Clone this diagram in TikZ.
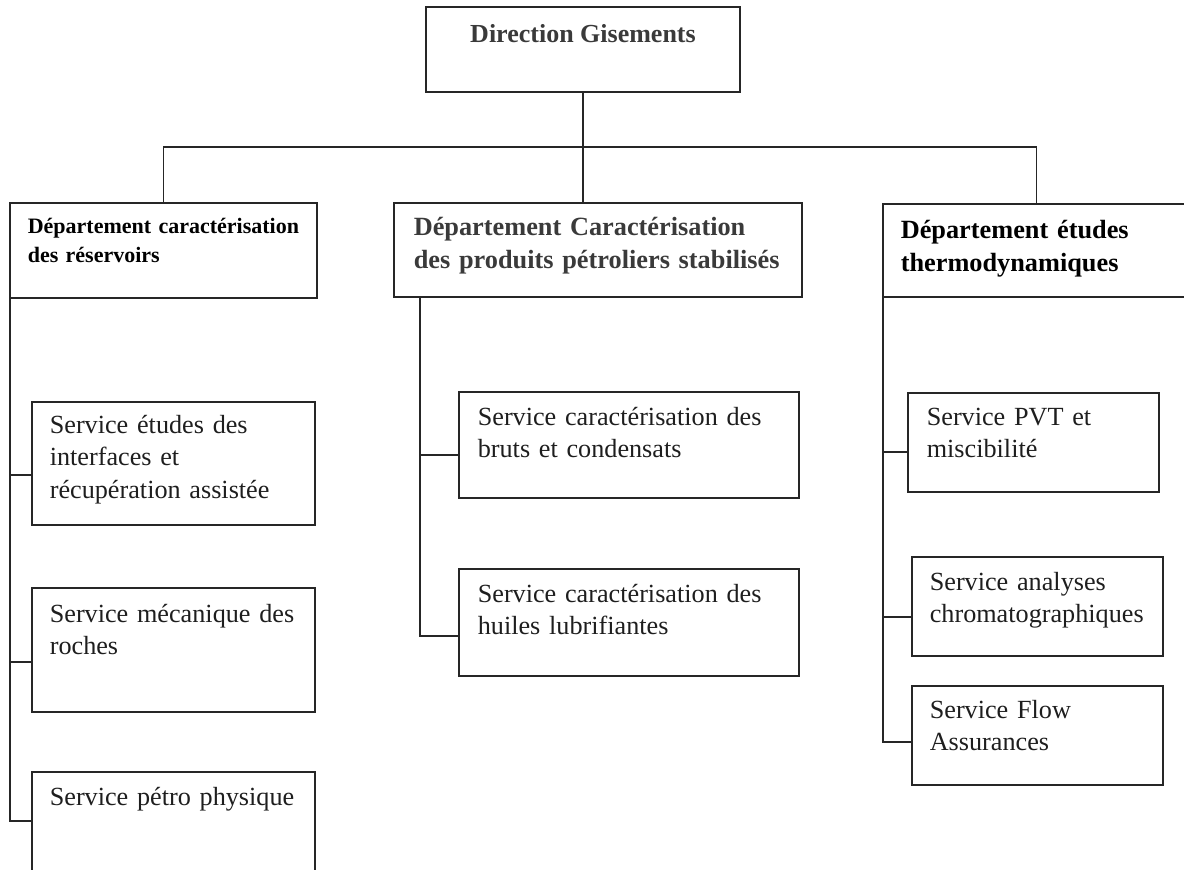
\documentclass[tikz,border=0pt]{standalone}
\usepackage{fontspec}
\setmainfont{Liberation Serif}
\usepackage{tikz}

\definecolor{traitc}{HTML}{262626}
\definecolor{grisT}{HTML}{3A3A3A}
\definecolor{encre}{HTML}{1E1E1E}

\begin{document}
\begin{tikzpicture}[x=1pt, y=-1pt, line width=1.6pt, line cap=rect,
  boite/.style={draw=traitc, line width=1.6pt, anchor=north west, inner sep=0pt, outer sep=0pt},
  trait/.style={draw=traitc, line width=1.6pt},
  titre/.style={anchor=base, inner sep=0pt, text=grisT, font=\fontsize{26}{32}\selectfont\bfseries},
  dep/.style={anchor=base west, inner sep=0pt, align=left, text width=440pt, font=\fontsize{26.3}{33}\selectfont\bfseries},
  srv/.style={anchor=base west, inner sep=0pt, align=left, text width=440pt, text=encre, font=\fontsize{26.2}{32.5}\selectfont}]

  %% ════ cadres ════
  \node[boite, minimum width=314pt, minimum height=85pt]  (dirG)      at (426,7)   {};
  \node[boite, minimum width=307pt, minimum height=95pt]  (depRes)    at (10,203)  {};
  \node[boite, minimum width=408pt, minimum height=94pt]  (depProd)   at (394,203) {};
  \node[boite, minimum width=307pt, minimum height=93pt]  (depThermo) at (883,204) {};   % coupe au bord droit

  \node[boite, minimum width=283pt, minimum height=123pt] (srvInterf) at (32,402)  {};
  \node[boite, minimum width=283pt, minimum height=124pt] (srvRoches) at (32,588)  {};
  \node[boite, minimum width=283pt, minimum height=124pt] (srvPetro)  at (32,772)  {};   % coupe en bas
  \node[boite, minimum width=340pt, minimum height=106pt] (srvBruts)  at (459,392) {};
  \node[boite, minimum width=340pt, minimum height=107pt] (srvHuiles) at (459,569) {};
  \node[boite, minimum width=251pt, minimum height=99pt]  (srvPVT)    at (908,393) {};
  \node[boite, minimum width=251pt, minimum height=99pt]  (srvChrom)  at (912,557) {};
  \node[boite, minimum width=251pt, minimum height=99pt]  (srvFlow)   at (912,686) {};

  %% ════ textes ════
  \node[titre] (dirGtxt) at ([yshift=-35pt]dirG.north) {Direction Gisements};

  \node[dep, text=black, font=\fontsize{22}{29}\selectfont\bfseries] (depResTxt) at ([shift={(17,30)}]depRes.north west)
    {Département caractérisation\\des réservoirs};
  \node[dep, text=grisT] (depProdTxt) at ([shift={(19,32)}]depProd.north west)
    {Département Caractérisation\\des produits pétroliers stabilisés};
  \node[dep, text=black] (depThermoTxt) at ([shift={(17,34)}]depThermo.north west)
    {Département études\\thermodynamiques};

  \node[srv] (srvInterfTxt) at ([shift={(17,31)}]srvInterf.north west) {Service études des\\interfaces et\\récupération assistée};
  \node[srv] (srvRochesTxt) at ([shift={(17,34)}]srvRoches.north west) {Service mécanique des\\roches};
  \node[srv] (srvPetroTxt)  at ([shift={(17,33)}]srvPetro.north west)  {Service pétro physique};
  \node[srv] (srvBrutsTxt)  at ([shift={(18,33)}]srvBruts.north west)  {Service caractérisation des\\bruts et condensats};
  \node[srv] (srvHuilesTxt) at ([shift={(18,33)}]srvHuiles.north west) {Service caractérisation des\\huiles lubrifiantes};
  \node[srv] (srvPVTTxt)    at ([shift={(18,32)}]srvPVT.north west)    {Service PVT et\\miscibilité};
  \node[srv] (srvChromTxt)  at ([shift={(17,33)}]srvChrom.north west)  {Service analyses\\chromatographiques};
  \node[srv] (srvFlowTxt)   at ([shift={(17,32)}]srvFlow.north west)   {Service Flow\\Assurances};

  %% ════ liaisons ════
  \draw[trait] (dirG.south) -- (dirG.south |- depProd.north);
  \coordinate (busG) at (depRes.north |- 0,147);
  \draw[trait] (depRes.north) -- (busG) -| (depThermo.north);

  % branche gauche
  \coordinate (brInterf) at ([yshift=-73pt]srvInterf.north west);
  \coordinate (brRoches) at ([yshift=-74pt]srvRoches.north west);
  \coordinate (brPetro)  at ([yshift=-49pt]srvPetro.north west);
  \draw[trait] (depRes.south west) |- (brPetro);
  \draw[trait] (depRes.south west |- brInterf) -- (brInterf);
  \draw[trait] (depRes.south west |- brRoches) -- (brRoches);

  % branche milieu
  \coordinate (trProd)   at ([xshift=26pt]depProd.south west);
  \coordinate (brBruts)  at ([yshift=-63pt]srvBruts.north west);
  \coordinate (brHuiles) at ([yshift=-67pt]srvHuiles.north west);
  \draw[trait] (trProd) |- (brHuiles);
  \draw[trait] (trProd |- brBruts) -- (brBruts);

  % branche droite
  \coordinate (brPVT)   at ([yshift=-59pt]srvPVT.north west);
  \coordinate (brChrom) at ([yshift=-60pt]srvChrom.north west);
  \coordinate (brFlow)  at ([yshift=-56pt]srvFlow.north west);
  \draw[trait] (depThermo.south west) |- (brFlow);
  \draw[trait] (depThermo.south west |- brPVT) -- (brPVT);
  \draw[trait] (depThermo.south west |- brChrom) -- (brChrom);

  % cadre de la page
  \pgfresetboundingbox
  \path[use as bounding box] (0,0) rectangle (1184,870);
\end{tikzpicture}
\end{document}
